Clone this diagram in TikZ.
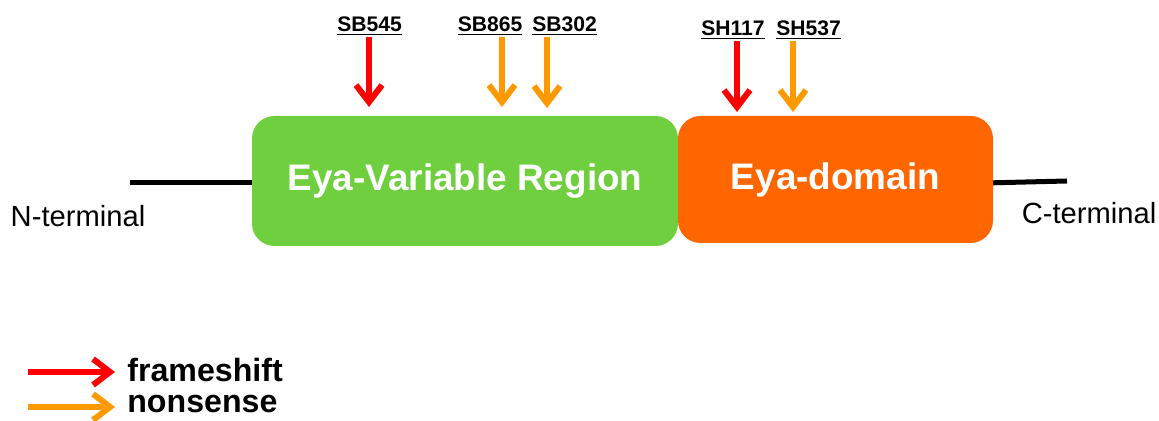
\documentclass[tikz,border=0pt]{standalone}
\usepackage{fontspec}
\setmainfont{Liberation Sans}
\usetikzlibrary{arrows.meta}
\definecolor{vrgreen}{HTML}{6FCF3F}
\definecolor{eyaorange}{HTML}{FF6600}
\definecolor{fsred}{HTML}{FF0000}
\definecolor{nsorange}{HTML}{FF9900}
\begin{document}
\begin{tikzpicture}[x=0.02cm,y=-0.02cm,
  mut/.style={line width=6*0.02cm,-{Straight Barb[length=3.4mm,width=5.2mm]}},
  tag/.style={font=\fontsize{12}{14}\selectfont\bfseries, inner sep=1pt},
  dom/.style={rounded corners=0.45cm, text=white, font=\fontsize{21}{24}\selectfont\bfseries}]
\useasboundingbox (0,0) rectangle (1159,421);
% chain ends
\coordinate (nend) at (130,183);
\coordinate (cend) at (1067,181);
\draw[line width=5*0.02cm] (nend) -- (260,183);
\draw[line width=5*0.02cm] (985,183) -- (cend);
% domains
\node[dom, fill=vrgreen, minimum width=426*0.02cm, minimum height=130*0.02cm](vr) at (465,181){Eya-Variable Region};
\node[dom, fill=eyaorange, minimum width=315*0.02cm, minimum height=127*0.02cm](ed) at (835.5,179.5){Eya-domain};
\node[font=\fontsize{16.6}{19}\selectfont](nterm) at (78,216){N-terminal};
\node[font=\fontsize{16.6}{19}\selectfont](cterm) at (1089,213){C-terminal};
% mutation labels
\node[tag](sb545) at (369.5,26){\underline{SB545}};
\node[tag](sb865) at (490,26){\underline{SB865}};
\node[tag](sb302) at (564.5,26){\underline{SB302}};
\node[tag](sh117) at (733,30){\underline{SH117}};
\node[tag](sh537) at (808.5,30){\underline{SH537}};
\coordinate (m1) at (369,107);
\coordinate (m2) at (502,107);
\coordinate (m3) at (547,108);
\coordinate (m4) at (737,112);
\coordinate (m5) at (793,112);
\draw[mut, fsred] (sb545.south -| m1) -- (m1);
\draw[mut, nsorange] (sb865.south -| m2) -- (m2);
\draw[mut, nsorange] (sb302.south -| m3) -- (m3);
\draw[mut, fsred] (sh117.south -| m4) -- (m4);
\draw[mut, nsorange] (sh537.south -| m5) -- (m5);
% legend
\coordinate (l1) at (28,372);
\coordinate (l2) at (28,407);
\node[anchor=west, inner sep=0pt, font=\fontsize{18.3}{21}\selectfont\bfseries](fs) at (127,370){frameshift};
\node[anchor=west, inner sep=0pt, font=\fontsize{18.3}{21}\selectfont\bfseries](ns) at (127,404){nonsense};
\draw[mut, fsred, shorten >=12*0.02cm] (l1) -- (l1 -| fs.west);
\draw[mut, nsorange, shorten >=12*0.02cm] (l2) -- (l2 -| ns.west);
\end{tikzpicture}
\end{document}
